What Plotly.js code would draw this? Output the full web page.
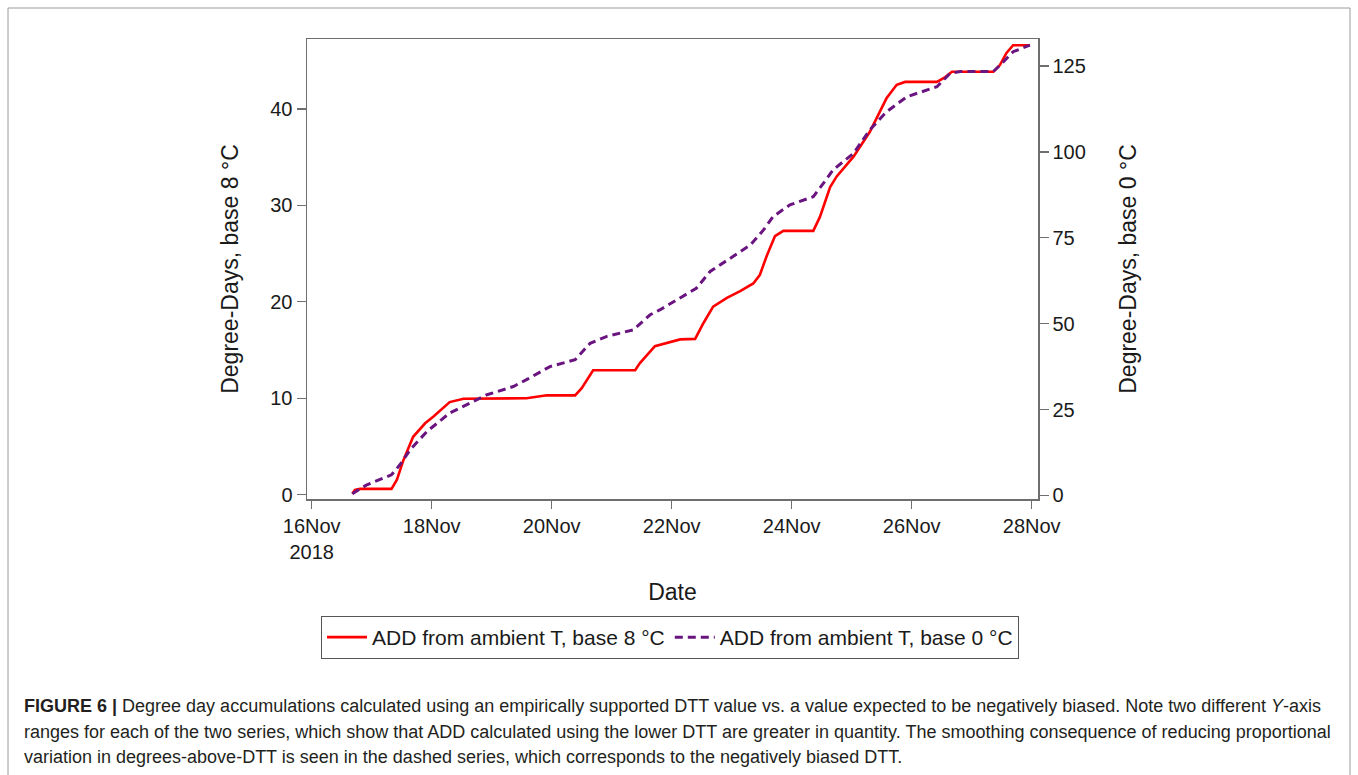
<!DOCTYPE html>
<html>
<head>
<meta charset="utf-8">
<script src="https://cdn.plot.ly/plotly-3.0.1.min.js"></script>
<style>
  html, body { margin: 0; padding: 0; background: #ffffff; }
  #chart { width: 1358px; height: 775px; }
</style>
</head>
<body>
<div id="chart"></div>
<script>
// Accumulated degree-days, base 8 °C (left axis)
const base8Times = [
  '2018-11-16 16:15', '2018-11-16 17:17', '2018-11-16 19:19', '2018-11-17 07:55',
  '2018-11-17 10:05', '2018-11-17 12:43', '2018-11-17 16:34', '2018-11-17 21:22',
  '2018-11-18 00:43', '2018-11-18 07:12', '2018-11-18 12:43', '2018-11-19 13:55',
  '2018-11-19 22:05', '2018-11-20 09:22', '2018-11-20 12:00', '2018-11-20 16:34',
  '2018-11-21 09:22', '2018-11-21 11:17', '2018-11-21 17:17', '2018-11-22 03:22',
  '2018-11-22 09:22', '2018-11-22 12:43', '2018-11-22 16:34', '2018-11-22 22:05',
  '2018-11-23 03:22', '2018-11-23 08:38', '2018-11-23 11:17', '2018-11-23 13:55',
  '2018-11-23 17:17', '2018-11-23 20:38', '2018-11-24 08:38', '2018-11-24 11:17',
  '2018-11-24 15:22', '2018-11-24 18:00', '2018-11-25 00:43', '2018-11-25 07:12',
  '2018-11-25 13:55', '2018-11-25 18:00', '2018-11-25 21:22', '2018-11-26 10:05',
  '2018-11-26 13:26', '2018-11-26 16:05', '2018-11-27 08:38', '2018-11-27 11:17',
  '2018-11-27 13:55', '2018-11-27 16:34', '2018-11-27 23:17'
];
const base8Values = [
  0.1, 0.5, 0.6, 0.6,
  1.55, 3.6, 6.0, 7.4,
  8.1, 9.6, 9.95, 10.0,
  10.3, 10.3, 11.05, 12.9,
  12.9, 13.65, 15.4, 16.1,
  16.15, 17.8, 19.5, 20.4,
  21.1, 21.9, 22.8, 24.7,
  26.8, 27.35, 27.35, 28.8,
  31.9, 33.0, 35.05, 37.6,
  41.1, 42.5, 42.8, 42.8,
  43.3, 43.85, 43.85, 44.55,
  45.8, 46.6, 46.6
];

// Accumulated degree-days, base 0 °C (right axis)
const base0Times = [
  '2018-11-16 16:15', '2018-11-16 22:05', '2018-11-17 07:55', '2018-11-17 11:17',
  '2018-11-17 15:22', '2018-11-17 22:05', '2018-11-18 07:12', '2018-11-18 13:55',
  '2018-11-18 22:05', '2018-11-19 08:38', '2018-11-19 13:55', '2018-11-19 23:17',
  '2018-11-20 09:22', '2018-11-20 15:22', '2018-11-20 22:05', '2018-11-21 08:38',
  '2018-11-21 15:22', '2018-11-21 19:12', '2018-11-22 03:22', '2018-11-22 09:50',
  '2018-11-22 15:22', '2018-11-22 23:17', '2018-11-23 07:26', '2018-11-23 12:43',
  '2018-11-23 16:34', '2018-11-23 23:17', '2018-11-24 08:38', '2018-11-24 12:43',
  '2018-11-24 16:34', '2018-11-25 00:43', '2018-11-25 07:12', '2018-11-25 13:55',
  '2018-11-25 22:05', '2018-11-26 10:05', '2018-11-26 15:22', '2018-11-26 19:26',
  '2018-11-27 08:38', '2018-11-27 12:43', '2018-11-27 16:34', '2018-11-27 23:17'
];
const base0Values = [
  0.5, 3.1, 6.0, 8.9,
  13.3, 18.6, 24.0, 26.4,
  29.3, 31.7, 33.7, 37.5,
  39.5, 44.3, 46.3, 48.2,
  52.6, 54.0, 57.6, 60.3,
  65.2, 69.1, 72.9, 77.3,
  81.2, 84.6, 87.0, 90.9,
  94.8, 99.6, 106.4, 111.7,
  116.1, 119.0, 122.9, 123.4,
  123.4, 126.3, 129.2, 131.1
];

// Axis ticks
const dateTickVals = ['2018-11-16', '2018-11-18', '2018-11-20', '2018-11-22', '2018-11-24', '2018-11-26', '2018-11-28'];
const dateTickText = ['16Nov<br>2018', '18Nov', '20Nov', '22Nov', '24Nov', '26Nov', '28Nov'];
const leftTicks = [0, 10, 20, 30, 40];
const rightTicks = [0, 25, 50, 75, 100, 125];

const seriesNames = ['ADD from ambient T, base 8 °C', 'ADD from ambient T, base 0 °C'];

const captionLines = [
  '<b>FIGURE 6 |</b> Degree day accumulations calculated using an empirically supported DTT value vs. a value expected to be negatively biased. Note two different <i>Y</i>-axis',
  'ranges for each of the two series, which show that ADD calculated using the lower DTT are greater in quantity. The smoothing consequence of reducing proportional',
  'variation in degrees-above-DTT is seen in the dashed series, which corresponds to the negatively biased DTT.'
];

const FONT = '"Liberation Sans", Arial, Helvetica, sans-serif';
const AXIS_GREY = '#6f6f6f';

// plot area in pixels: x 307..1038, y 39..499
const PL = 307, PR = 1038, PT = 39, PB = 499;
const PW = PR - PL, PH = PB - PT;
const px = v => (v - PL) / PW;
const py = v => (PB - v) / PH;

const traces = [
  {
    x: base8Times, y: base8Values, name: seriesNames[0],
    type: 'scatter', mode: 'lines', yaxis: 'y',
    line: { color: '#ff0000', width: 2.6 }
  },
  {
    x: base0Times, y: base0Values, name: seriesNames[1],
    type: 'scatter', mode: 'lines', yaxis: 'y2',
    line: { color: '#6a1480', width: 3, dash: '8px,5px' }
  }
];

const annotations = captionLines.map((t, i) => ({
  text: t, xref: 'paper', yref: 'paper',
  x: px(22), y: py(706 + i * 25.5),
  xanchor: 'left', yanchor: 'middle', showarrow: false,
  align: 'left',
  font: { family: FONT, size: 18, color: '#231f20' }
}));

const layout = {
  width: 1358, height: 775,
  margin: { l: PL, r: 1358 - PR, t: PT, b: 775 - PB, pad: 0 },
  paper_bgcolor: '#ffffff', plot_bgcolor: '#ffffff',
  font: { family: FONT, color: '#1a1a1a' },
  showlegend: true,
  legend: {
    orientation: 'h', x: px(670), xanchor: 'center', y: py(616), yanchor: 'top',
    bordercolor: '#555555', borderwidth: 1,
    font: { family: FONT, size: 21, color: '#1a1a1a' },
    itemwidth: 40, tracegroupgap: 0
  },
  xaxis: {
    type: 'date',
    range: ['2018-11-15 22:07', '2018-11-28 02:31'],
    tickvals: dateTickVals, ticktext: dateTickText,
    ticks: 'outside', ticklen: 8, tickwidth: 1.3, tickcolor: AXIS_GREY,
    showline: true, linecolor: AXIS_GREY, linewidth: 1.5, mirror: true,
    showgrid: false, zeroline: false,
    tickfont: { family: FONT, size: 20, color: '#1a1a1a' },
    title: { text: 'Date', font: { family: FONT, size: 23, color: '#1a1a1a' }, standoff: 22 }
  },
  yaxis: {
    range: [-0.45, 47.25],
    tickvals: leftTicks,
    ticks: 'outside', ticklen: 9, tickwidth: 1.3, tickcolor: AXIS_GREY,
    showline: true, linecolor: AXIS_GREY, linewidth: 1.5,
    showgrid: false, zeroline: false,
    tickfont: { family: FONT, size: 20, color: '#1a1a1a' },
    title: { text: 'Degree-Days, base 8 °C', font: { family: FONT, size: 23, color: '#1a1a1a' }, standoff: 25 }
  },
  yaxis2: {
    overlaying: 'y', side: 'right',
    range: [-1.05, 132.9],
    tickvals: rightTicks,
    ticks: 'outside', ticklen: 9, tickwidth: 1.3, tickcolor: AXIS_GREY,
    showline: true, linecolor: AXIS_GREY, linewidth: 1.5,
    showgrid: false, zeroline: false,
    tickfont: { family: FONT, size: 20, color: '#1a1a1a' },
    title: { text: 'Degree-Days, base 0 °C', font: { family: FONT, size: 23, color: '#1a1a1a' }, standoff: 35 }
  },
  annotations: annotations,
  shapes: [
    {
      type: 'rect', xref: 'paper', yref: 'paper',
      x0: px(8), x1: px(1350), y0: py(800), y1: py(8),
      line: { color: '#9a9a9a', width: 1 }, fillcolor: 'rgba(0,0,0,0)', layer: 'below'
    }
  ]
};

Plotly.newPlot('chart', traces, layout, { staticPlot: true, displayModeBar: false });
</script>
</body>
</html>
